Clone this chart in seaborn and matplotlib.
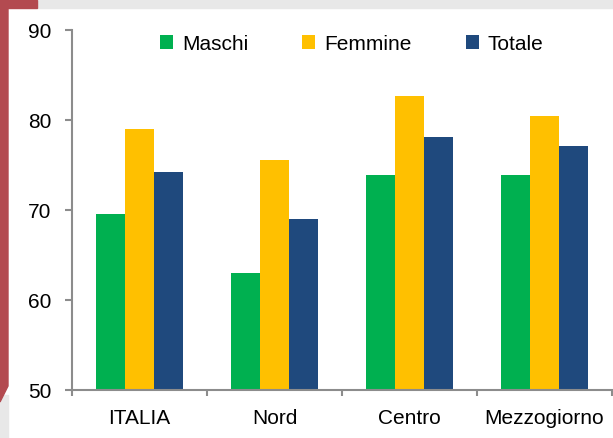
import pandas as pd
import seaborn as sns
import matplotlib.pyplot as plt
from matplotlib.patches import Rectangle, Polygon


# data
AREE     = ['ITALIA', 'Nord', 'Centro', 'Mezzogiorno']
MASCHI   = [69.6, 63.0, 73.9, 73.9]
FEMMINE  = [79.0, 75.6, 82.7, 80.4]
TOTALE   = [74.2, 69.0, 78.1, 77.1]
SERIE    = ['Maschi', 'Femmine', 'Totale']
COLORI   = ['#00b050', '#ffc000', '#1f497d']
Y_TICKS  = [50, 60, 70, 80, 90]


df = pd.DataFrame({
    'area':   AREE * 3,
    'valore': MASCHI + FEMMINE + TOTALE,
    'serie':  [s for s in SERIE for _ in AREE],
})

sns.set_style('white')
plt.rcParams['font.family'] = ['Liberation Sans', 'DejaVu Sans']
plt.rcParams['text.color'] = 'black'
plt.rcParams['xtick.labelcolor'] = 'black'
plt.rcParams['ytick.labelcolor'] = 'black'

W, H = 613, 438
fig = plt.figure(figsize=(W / 100, H / 100), dpi=100)
fig.patch.set_facecolor('white')

'''
slide decoration: grey band on top, red strip on the left
'''
grey = '#e8e8e8'
red = '#b34a50'
fig.add_artist(Rectangle((37 / W, 1 - 8 / H), 1, 8 / H, transform=fig.transFigure,
                         color=grey, zorder=0))
fig.add_artist(Rectangle((0, 1 - 8 / H), 37 / W, 8 / H, transform=fig.transFigure,
                         color=red, zorder=0))
fig.add_artist(Rectangle((0, 0), 8 / W, 1 - 395 / H, transform=fig.transFigure,
                         color=grey, zorder=0))
fig.add_artist(Polygon([(0, 1), (8 / W, 1), (8 / W, 1 - 386 / H), (0, 1 - 402 / H)],
                       closed=True, transform=fig.transFigure, color=red, zorder=0))

ax = fig.add_axes([72 / W, 48 / H, 540 / W, 360 / H])
ax.set_facecolor('none')

sns.barplot(data=df, x='area', y='valore', hue='serie', hue_order=SERIE,
            palette=COLORI, saturation=1, width=0.65, linewidth=0, ax=ax)

ax.set_ylim(50, 90)
ax.set_yticks(Y_TICKS)
ax.set_xlim(-0.5, len(AREE) - 0.5)
ax.set_xlabel('')
ax.set_ylabel('')

sns.despine(ax=ax)
for s in ['left', 'bottom']:
    ax.spines[s].set_color('#8c8c8c')
    ax.spines[s].set_linewidth(1.5)

ax.tick_params(axis='y', direction='out', length=5, width=1.5, color='#8c8c8c',
               pad=10, labelsize=15, left=True)
ax.tick_params(axis='x', which='major', length=0, pad=14, labelsize=15)
ax.set_xticks([i - 0.5 for i in range(len(AREE) + 1)], minor=True)
ax.tick_params(axis='x', which='minor', direction='out', length=4, width=1.5,
               color='#8c8c8c', bottom=True)

handles, labels = ax.get_legend_handles_labels()
ax.legend(handles, labels, ncol=3, loc='center left', bbox_to_anchor=(0.163, 0.961),
          frameon=False, fontsize=15, handlelength=0.625, handleheight=0.625,
          handletextpad=0.43, columnspacing=2.6, borderpad=0, borderaxespad=0)

fig.savefig('out.png', dpi=100)
